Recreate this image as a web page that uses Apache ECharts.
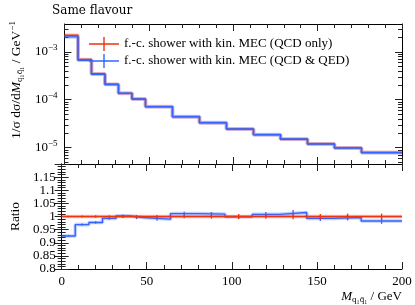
<!DOCTYPE html>
<html><head><meta charset="utf-8">
<script src="https://cdn.jsdelivr.net/npm/echarts@6/dist/echarts.min.js"></script>
<style>html,body{margin:0;padding:0;background:#fff}#c{width:415px;height:305px}</style>
</head><body><div id="c"></div>
<script>
// ---- data ----
var binEdges = [0, 8, 16, 24, 32, 40, 48, 64, 80, 96, 112, 128, 144, 160, 176, 200];
var qcdOnly = [2.22e-3, 6.9e-4, 3.49e-4, 2.1e-4, 1.36e-4, 1.037e-4, 7.2e-5, 4.4e-5, 3.3e-5, 2.45e-5, 1.86e-5, 1.5e-5, 1.2e-5, 9.9e-6, 8.0e-6];
var qcdQed  = [2.05e-3, 6.68e-4, 3.41e-4, 2.085e-4, 1.363e-4, 1.033e-4, 7.13e-5, 4.45e-5, 3.33e-5, 2.448e-5, 1.875e-5, 1.523e-5, 1.19e-5, 9.86e-6, 7.86e-6];
var ratioQcdQed = [0.926, 0.969, 0.977, 0.993, 1.002, 0.996, 0.990, 1.011, 1.009, 0.999, 1.008, 1.015, 0.993, 0.996, 0.983];
var ratioQcdOnly = [1, 1, 1, 1, 1, 1, 1, 1, 1, 1, 1, 1, 1, 1, 1];
var errQcdOnly = [0.003, 0.004, 0.005, 0.005, 0.006, 0.006, 0.006, 0.007, 0.008, 0.009, 0.009, 0.010, 0.010, 0.011, 0.011];
var errQcdQed  = [0.003, 0.004, 0.005, 0.005, 0.006, 0.006, 0.006, 0.007, 0.008, 0.009, 0.009, 0.010, 0.010, 0.011, 0.011];
var logMajorTicks = [1e-5, 1e-4, 1e-3];
var logMinorTicks = [5e-6, 6e-6, 7e-6, 8e-6, 9e-6, 2e-5, 3e-5, 4e-5, 5e-5, 6e-5, 7e-5, 8e-5, 9e-5,
                     2e-4, 3e-4, 4e-4, 5e-4, 6e-4, 7e-4, 8e-4, 9e-4, 2e-3, 3e-3];
var nameA = 'f.-c. shower with kin. MEC (QCD only)';
var nameB = 'f.-c. shower with kin. MEC (QCD & QED)';
var titleText = 'Same flavour';

// ---- build ----
function steps(vals) {
  var out = [];
  for (var i = 0; i < vals.length; i++) {
    out.push([binEdges[i], vals[i]]);
    out.push([binEdges[i + 1], vals[i]]);
  }
  return out;
}
function errData(vals, errs) {
  var out = [];
  for (var i = 0; i < vals.length; i++) {
    out.push([(binEdges[i] + binEdges[i + 1]) / 2, vals[i] - errs[i], vals[i] + errs[i]]);
  }
  return out;
}
var RED = '#ee3311', BLUE = '#3366ff';
var FONT = 'Liberation Serif';
var TICK = '#222';

function xAx(grid, pos, labels) {
  return {
    type: 'value', gridIndex: grid, position: pos, min: 0, max: 200, interval: 50,
    axisLine: {show: true, lineStyle: {color: '#000', width: 1}},
    axisTick: {show: true, inside: true, length: 7, lineStyle: {color: TICK}},
    minorTick: {show: true, splitNumber: 5, length: 4, lineStyle: {color: TICK}},
    axisLabel: {show: labels, color: '#000', fontFamily: FONT, fontSize: 13, margin: 6},
    splitLine: {show: false}, minorSplitLine: {show: false}
  };
}
function logAx(pos, ticks, len, labels, lineShow) {
  return {
    type: 'log', gridIndex: 0, position: pos, min: 4.57e-6, max: 3.8e-3,
    axisLine: {show: lineShow, lineStyle: {color: '#000', width: 1}},
    axisTick: {show: true, inside: true, length: len, customValues: ticks, lineStyle: {color: TICK}},
    minorTick: {show: false},
    axisLabel: {show: labels, customValues: ticks, margin: 7, color: '#000', fontFamily: FONT,
      formatter: function (v) {
        var e = Math.round(Math.log10(v));
        return '{b|10}{s|\u2212' + (-e) + '}';
      },
      rich: {b: {fontSize: 13, fontFamily: FONT, color: '#000'},
             s: {fontSize: 9, fontFamily: FONT, color: '#000', padding: [0, 0, 8, 0]}}
    },
    splitLine: {show: false}
  };
}
function lineS(name, data, color, xi, yi, w, op, z) {
  return {
    type: 'line', name: name, xAxisIndex: xi, yAxisIndex: yi, data: data,
    showSymbol: false, symbol: 'none', animation: false, z: z,
    lineStyle: {color: color, width: w, opacity: op}, itemStyle: {color: color}
  };
}
function errS(name, data, color, z) {
  return {
    type: 'custom', name: name, xAxisIndex: 2, yAxisIndex: 4, data: data, animation: false, z: z,
    renderItem: function (params, api) {
      var a = api.coord([api.value(0), api.value(1)]);
      var b = api.coord([api.value(0), api.value(2)]);
      return {type: 'line', shape: {x1: a[0], y1: a[1], x2: b[0], y2: b[1]},
              style: {stroke: color, lineWidth: 1.3}};
    }
  };
}

var chart = echarts.init(document.getElementById('c'), null, {renderer: 'canvas'});
chart.setOption({
  animation: false,
  backgroundColor: '#fff',
  title: {text: titleText, left: 47, top: 0,
          textStyle: {fontFamily: 'DejaVu Serif', fontSize: 12, fontWeight: 'normal', color: '#000'}},
  legend: {
    data: [nameA, nameB], orient: 'vertical', left: 84, top: 32, itemGap: 3,
    itemWidth: 30, itemHeight: 14,
    icon: 'path://M0,6.3h30v1.4H0z M14.3,0h1.4v14h-1.4z',
    textStyle: {fontFamily: FONT, fontSize: 13, color: '#000'},
    selectedMode: false
  },
  grid: [
    {left: 52, top: 24, width: 350, height: 140, containLabel: false},
    {left: 52, top: 164, width: 350, height: 105, containLabel: false}
  ],
  xAxis: [
    xAx(0, 'bottom', false),
    xAx(0, 'top', false),
    Object.assign(xAx(1, 'bottom', true), {
      name: '{m|M}{s|q\u2081q\u0304\u2081} / GeV', nameLocation: 'end', nameGap: 0,
      nameTextStyle: {fontFamily: FONT, fontSize: 13, color: '#000',
        align: 'right', verticalAlign: 'top', padding: [20, 0, 0, 0],
        rich: {m: {fontSize: 13, fontFamily: FONT, fontStyle: 'italic', color: '#000'},
               s: {fontSize: 9, fontFamily: FONT, color: '#000', padding: [6, 0, 0, 0]}}}
    }),
    xAx(1, 'top', false)
  ],
  yAxis: [
    Object.assign(logAx('left', logMajorTicks, 7, true, true), {
      name: '1/\u03c3 d\u03c3/d{m|M}{s|q\u2081q\u0304\u2081} / GeV{p|\u22121}',
      nameLocation: 'middle', nameGap: 38, nameRotate: 90,
      nameTextStyle: {fontFamily: FONT, fontSize: 13.5, color: '#000', padding: [0, 0, 0, 28],
        rich: {m: {fontSize: 13.5, fontFamily: FONT, fontStyle: 'italic', color: '#000'},
               s: {fontSize: 9, fontFamily: FONT, color: '#000', padding: [6, 0, 0, 0]},
               p: {fontSize: 9, fontFamily: FONT, color: '#000', padding: [0, 0, 8, 0]}}}
    }),
    logAx('left', logMinorTicks, 4, false, false),
    logAx('right', logMajorTicks, 7, false, true),
    logAx('right', logMinorTicks, 4, false, false),
    {
      type: 'value', gridIndex: 1, position: 'left', min: 0.8, max: 1.2, interval: 0.05,
      name: 'Ratio', nameLocation: 'middle', nameGap: 33, nameRotate: 90,
      nameTextStyle: {fontFamily: FONT, fontSize: 13.5, color: '#000'},
      axisLine: {show: true, lineStyle: {color: '#000'}},
      axisTick: {show: true, inside: true, length: 7, lineStyle: {color: TICK}},
      minorTick: {show: true, splitNumber: 5, length: 4, lineStyle: {color: TICK}},
      axisLabel: {color: '#000', fontFamily: FONT, fontSize: 13, margin: 6,
        formatter: function (v) { return v > 1.19 ? '' : String(+v.toFixed(2)); }},
      splitLine: {show: false}
    },
    {
      type: 'value', gridIndex: 1, position: 'right', min: 0.8, max: 1.2, interval: 0.05,
      axisLine: {show: true, lineStyle: {color: '#000'}},
      axisTick: {show: true, inside: true, length: 7, lineStyle: {color: TICK}},
      minorTick: {show: true, splitNumber: 5, length: 4, lineStyle: {color: TICK}},
      axisLabel: {show: false}, splitLine: {show: false}
    }
  ],
  series: [
    lineS('haloA', steps(qcdOnly), RED, 0, 0, 3.6, 0.3, 2),
    lineS(nameA, steps(qcdOnly), RED, 0, 0, 1.4, 1, 3),
    lineS('haloB', steps(qcdQed), BLUE, 0, 0, 3.6, 0.3, 4),
    lineS(nameB, steps(qcdQed), BLUE, 0, 0, 1.4, 1, 5),
    lineS('rHaloB', steps(ratioQcdQed), BLUE, 2, 4, 3.6, 0.3, 2),
    lineS('rB', steps(ratioQcdQed), BLUE, 2, 4, 1.4, 1, 3),
    errS('eB', errData(ratioQcdQed, errQcdQed), BLUE, 3),
    lineS('rHaloA', steps(ratioQcdOnly), RED, 2, 4, 3.6, 0.3, 4),
    lineS('rA', steps(ratioQcdOnly), RED, 2, 4, 1.4, 1, 5),
    errS('eA', errData(ratioQcdOnly, errQcdOnly), RED, 5)
  ]
});
</script></body></html>
